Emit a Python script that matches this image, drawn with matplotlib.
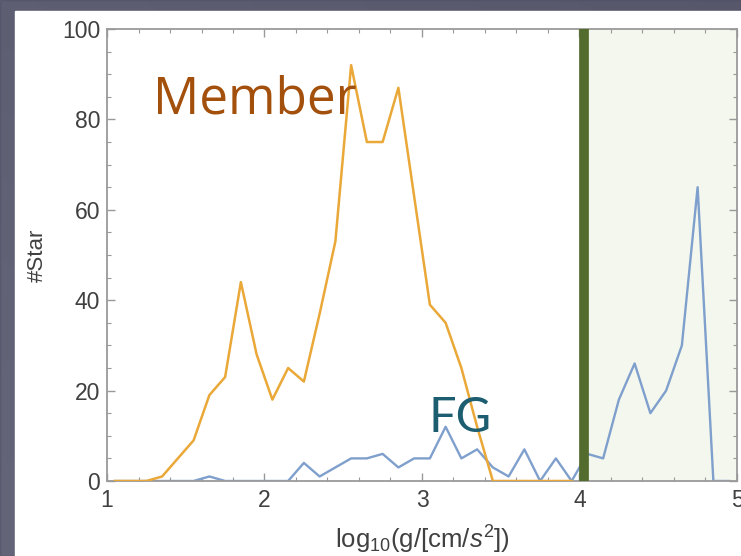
import matplotlib
matplotlib.use("Agg")
import matplotlib.pyplot as plt
from matplotlib.patches import Rectangle
from matplotlib.ticker import MultipleLocator
import numpy as np

plt.rcParams['font.family'] = ['Liberation Sans', 'DejaVu Sans']
plt.rcParams['mathtext.fontset'] = 'custom'
plt.rcParams['mathtext.rm'] = 'Liberation Sans'
plt.rcParams['mathtext.it'] = 'Liberation Sans:italic'

# bin centres in log10 g
logg = [1.05, 1.15, 1.25, 1.35, 1.45, 1.55, 1.65, 1.75, 1.85, 1.95,
        2.05, 2.15, 2.25, 2.35, 2.45, 2.55, 2.65, 2.75, 2.85, 2.95,
        3.05, 3.15, 3.25, 3.35, 3.45, 3.55, 3.65, 3.75, 3.85, 3.95,
        4.05, 4.15, 4.25, 4.35, 4.45, 4.55, 4.65, 4.75, 4.85, 4.95]
member = [0, 0, 0, 1, 5, 9, 19, 23, 44, 28,
          18, 25, 22, 37, 53, 92, 75, 75, 87, 63,
          39, 35, 25, 12, 0, 0, 0, 0, 0, 0]
fg = [0, 0, 0, 0, 0, 0, 1, 0, 0, 0,
      0, 0, 4, 1, 3, 5, 5, 6, 3, 5,
      5, 12, 5, 7, 3, 1, 7, 0, 5, 0,
      6, 5, 18, 26, 15, 20, 30, 65, 0, 0]
cut = 4.03

fig = plt.figure(figsize=(7.41, 5.56), dpi=100)
fig.patch.set_facecolor('#46465c')

# slide background: dark frame with a soft gradient + white panel
bg = fig.add_axes([0, 0, 1, 1], zorder=-10)
yy, xx = np.mgrid[0:1:100j, 0:1:100j]
bg.imshow(0.5 * yy - 0.4 * xx, cmap='Greys_r', extent=[0, 1, 0, 1],
          aspect='auto', vmin=-2.2, vmax=1.6)
bg.add_patch(Rectangle((0, 0), 1, 1, color='#4a4a64', alpha=0.8))
bg.add_patch(Rectangle((15 / 741, 0), 1, 0.98, color='white'))
bg.set_xlim(0, 1)
bg.set_ylim(0, 1)
bg.axis('off')

ax = fig.add_axes([0.1444, 0.1349, 0.8502, 0.8129])
ax.set_facecolor('white')
ax.axvspan(cut, 5, color='#f3f7ee', zorder=0)
ax.plot(logg, fg, color='#7f9fcc', lw=1.7, zorder=2)
ax.plot(logg[:len(member)], member, color='#eaa838', lw=1.8, zorder=3)
ax.axvline(cut, color='#536b2c', lw=7, zorder=4)

ax.text(1.29, 81.4, 'Member', color='#a3500c', fontsize=37,
        family=['Open Sans', 'DejaVu Sans'], zorder=5)
ax.text(3.04, 10.8, 'FG', color='#1c5d70', fontsize=35,
        family=['Lato', 'DejaVu Sans'], zorder=5)

ax.set_xlim(1, 5)
ax.set_ylim(0, 100)
ax.xaxis.set_major_locator(MultipleLocator(1))
ax.xaxis.set_minor_locator(MultipleLocator(0.2))
ax.yaxis.set_major_locator(MultipleLocator(20))
ax.yaxis.set_minor_locator(MultipleLocator(5))
ax.tick_params(which='both', direction='in', top=True, right=True,
               color='#999999', labelcolor='#404040', labelsize=16.5)
ax.tick_params(which='major', length=6, width=1)
ax.tick_params(which='minor', length=3, width=0.8)
ax.tick_params(axis='x', pad=6)
ax.tick_params(axis='y', pad=5)
for s in ax.spines.values():
    s.set_color('#9a9a9a')
    s.set_linewidth(1.3)

ax.set_xlabel(r'log$_{10}$(g/[cm/$s^2$])', fontsize=18.5, color='#404040',
              labelpad=8)
ax.set_ylabel('#Star', fontsize=16, color='#404040', labelpad=10)

fig.savefig('out.png', dpi=100, facecolor=fig.get_facecolor())
